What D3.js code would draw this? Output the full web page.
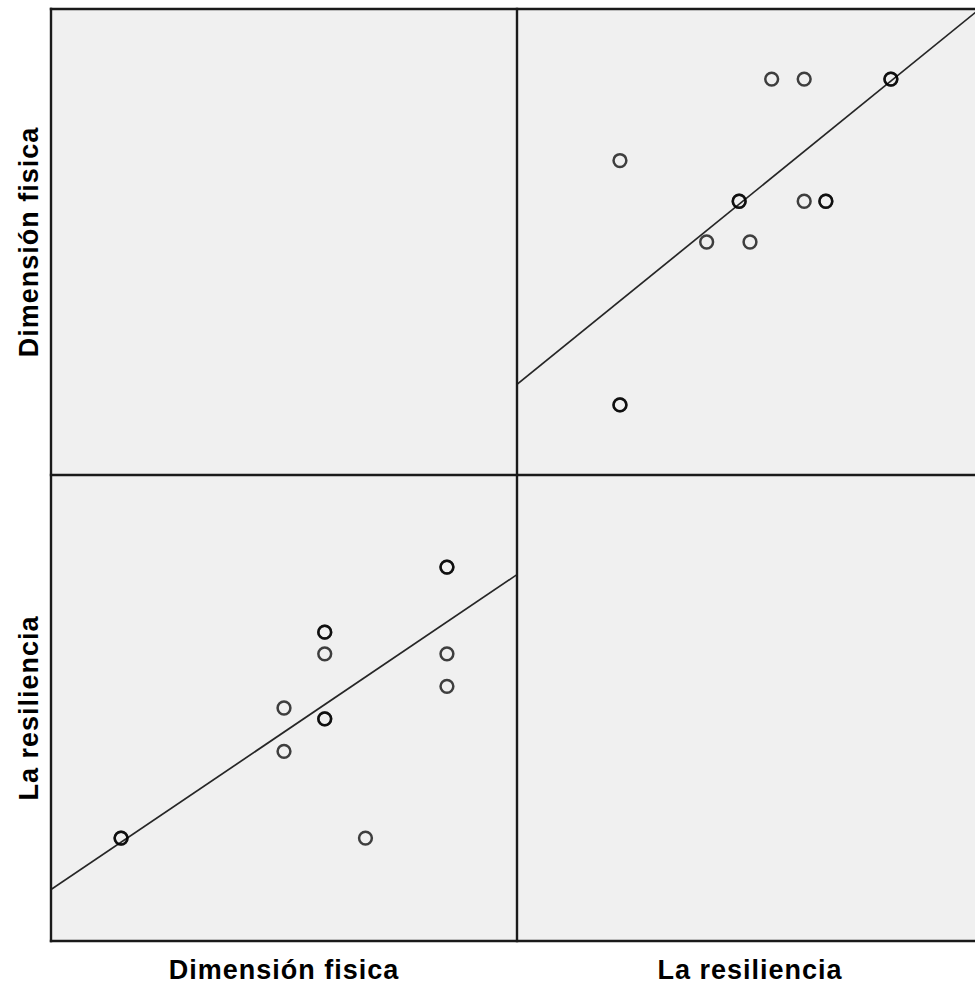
<!DOCTYPE html>
<html>
<head>
<meta charset="utf-8">
<script src="https://cdn.jsdelivr.net/npm/d3@7"></script>
<style>
  html, body { margin: 0; padding: 0; background: #ffffff; }
  svg { display: block; }
</style>
</head>
<body>
<script>
// ---- Data ----
const variables = ["Dimensión fisica", "La resiliencia"];
const dimension  = [20, 20, 17, 17, 17, 20, 20, 16, 17, 17, 16, 12, 12, 18];
const resiliencia = [85, 85, 79, 79, 77, 77, 74, 72, 71, 71, 68, 60, 60, 60];
// axis limits (no tick labels shown)
const dimDomain = [10.28, 21.72];
const resDomain = [50.5, 93.5];
// fitted lines: [intercept, slope]
const fitResOnDim = [29.12, 2.541];   // resiliencia = a + b * dimension
const fitDimOnRes = [1.60, 0.2159];   // dimension  = a + b * resiliencia

// ---- Layout ----
const W = 975, H = 987;
const plotLeft = 51, plotTop = 9, cell = 466;

const svg = d3.select("body").append("svg")
  .attr("width", W).attr("height", H)
  .style("font-family", "'Liberation Sans', Arial, sans-serif");

const cols = [plotLeft, plotLeft + cell];
const rows = [plotTop, plotTop + cell];

const xDim = d3.scaleLinear().domain(dimDomain).range([cols[0], cols[0] + cell]);
const yRes = d3.scaleLinear().domain(resDomain).range([rows[1] + cell, rows[1]]);
const xRes = d3.scaleLinear().domain(resDomain).range([cols[1], cols[1] + cell]);
const yDim = d3.scaleLinear().domain(dimDomain).range([rows[0] + cell, rows[0]]);

// panel backgrounds
const panels = [];
rows.forEach((ry, i) => cols.forEach((cx, j) => panels.push({x: cx, y: ry, i, j})));
svg.selectAll("rect.panel").data(panels).enter().append("rect")
  .attr("class", "panel")
  .attr("x", d => d.x).attr("y", d => d.y)
  .attr("width", cell).attr("height", cell)
  .attr("fill", "#f0f0f0");

// clip paths
const defs = svg.append("defs");
defs.append("clipPath").attr("id", "clipTR").append("rect")
  .attr("x", cols[1]).attr("y", rows[0]).attr("width", cell).attr("height", cell);
defs.append("clipPath").attr("id", "clipBL").append("rect")
  .attr("x", cols[0]).attr("y", rows[1]).attr("width", cell).attr("height", cell);

const pts = dimension.map((d, k) => ({dim: d, res: resiliencia[k]}));

function drawCircles(g, cx, cy) {
  g.selectAll("circle").data(pts).enter().append("circle")
    .attr("cx", cx).attr("cy", cy).attr("r", 6.4)
    .attr("fill", "none").attr("stroke", "#000").attr("stroke-opacity", 0.74)
    .attr("stroke-width", 2.5);
}

// ---- Top-right: x = resiliencia, y = dimension ----
const gTR = svg.append("g").attr("clip-path", "url(#clipTR)");
const lineTR = resDomain.map(r => [xRes(r), yDim(fitDimOnRes[0] + fitDimOnRes[1] * r)]);
gTR.append("path").attr("d", d3.line()(lineTR))
  .attr("stroke", "#262626").attr("stroke-width", 1.7).attr("fill", "none");
drawCircles(gTR, d => xRes(d.res), d => yDim(d.dim));

// ---- Bottom-left: x = dimension, y = resiliencia ----
const gBL = svg.append("g").attr("clip-path", "url(#clipBL)");
const lineBL = dimDomain.map(d => [xDim(d), yRes(fitResOnDim[0] + fitResOnDim[1] * d)]);
gBL.append("path").attr("d", d3.line()(lineBL))
  .attr("stroke", "#262626").attr("stroke-width", 1.7).attr("fill", "none");
drawCircles(gBL, d => xDim(d.dim), d => yRes(d.res));

// ---- Frame lines ----
const frame = svg.append("g").attr("stroke", "#1a1a1a").attr("stroke-width", 2.4).attr("fill", "none");
[0, 1, 2].forEach(k => {
  frame.append("line").attr("x1", plotLeft - 1.2).attr("x2", plotLeft + 2 * cell)
    .attr("y1", plotTop + k * cell).attr("y2", plotTop + k * cell);
  frame.append("line").attr("x1", plotLeft + k * cell).attr("x2", plotLeft + k * cell)
    .attr("y1", plotTop - 1.2).attr("y2", plotTop + 2 * cell + 1.2);
});

// ---- Labels ----
svg.selectAll("text.xlab").data(variables).enter().append("text")
  .attr("class", "xlab")
  .attr("x", (d, j) => cols[j] + cell / 2)
  .attr("y", 979)
  .attr("text-anchor", "middle")
  .attr("font-size", 27).attr("font-weight", "bold")
  .attr("letter-spacing", 1)
  .attr("fill", "#000")
  .text(d => d);

svg.selectAll("text.ylab").data(variables).enter().append("text")
  .attr("class", "ylab")
  .attr("transform", (d, i) => `translate(38,${rows[i] + cell / 2}) rotate(-90)`)
  .attr("text-anchor", "middle")
  .attr("font-size", 27).attr("font-weight", "bold")
  .attr("letter-spacing", 1)
  .attr("fill", "#000")
  .text(d => d);
</script>
</body>
</html>
